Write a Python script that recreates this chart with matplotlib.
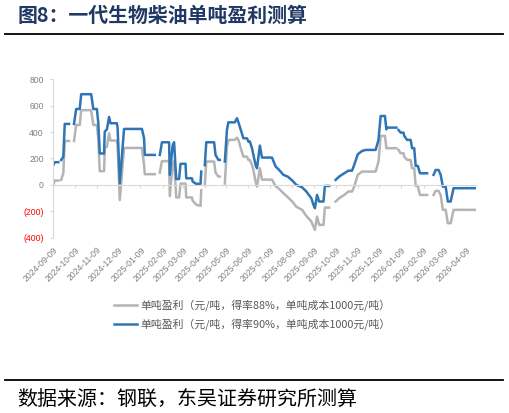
import matplotlib
matplotlib.use('Agg')
import numpy as np
import pandas as pd
import matplotlib.pyplot as plt
import matplotlib.dates as mdates
from matplotlib.lines import Line2D

plt.rcParams['font.family'] = ['Noto Sans CJK SC', 'DejaVu Sans']

nan = np.nan
start_date = '2024-09-09'
day_offsets = [0, 2, 7, 9, 11, 14, 16, 22, 26, 29, 32, 37, 39, 53, 56, 61, 63, 65, 71, 72,
               75, 78, 80, 89, 90, 93, 99, 124, 127, 128, 142, 146, 149, 152, 162, 163, 167, 169, 172, 176,
               178, 185, 186, 194, 195, 200, 206, 207, 209, 212, 214, 225, 227, 231, 233, 236, 240, 243, 245, 254,
               257, 259, 263, 266, 271, 273, 275, 278, 280, 283, 285, 289, 292, 306, 311, 316, 322, 328, 335, 340,
               348, 354, 361, 364, 366, 369, 372, 378, 380, 386, 390, 395, 400, 407, 413, 418, 421, 426, 432, 437,
               451, 455, 458, 464, 466, 467, 480, 481, 483, 486, 490, 491, 495, 500, 502, 505, 507, 510, 513, 523,
               528, 532, 535, 539, 542, 545, 549, 552, 556, 560, 571, 573, 574, 591]
profit_90 = [151, 172, 172, nan, 189, 214, 462, 462, nan, 462, 575, 575, 687, 687, 575, 575, 467, 238, 238, 404,
             420, 515, 467, 467, 429, 13, 424, 424, 353, 227, 227, nan, 227, 323, 323, 76, 300, 323, 45, 45,
             160, 160, 50, 50, 25, 8, 8, 101, nan, 150, 323, 323, 227, 189, 189, nan, 177, 420, 474, 474,
             505, 474, 404, 353, 353, 328, 328, 278, 227, 151, 126, 298, 207, 207, 140, 113, 76, 63, 30, 0,
             -18, -50, -101, -151, -177, -76, -126, -126, -8, -8, nan, 38, 63, 88, 108, 108, 151, 232, 257, 265,
             265, 341, 522, 522, 421, 434, 434, nan, 416, 396, 396, 371, 341, 341, 278, 278, 144, 144, 88, 88,
             nan, 76, 113, 113, 76, -13, -13, -126, -126, -25, -25, nan, -25, -25]
profit_88 = [0, 33, 33, nan, 38, 88, 333, 333, nan, 333, 454, 454, 566, 566, 454, 454, 341, 104, 104, 280,
             290, 391, 336, 336, 290, -115, 280, 280, 150, 81, 81, nan, 93, 180, 180, -85, 160, 180, -95, -95,
             10, 10, -95, -95, -120, -150, -159, -40, nan, 0, 177, 177, 93, 63, 63, nan, 10, 290, 341, 341,
             358, 341, 265, 214, 214, 189, 189, 151, 113, 25, -13, 126, 40, 40, -10, -30, -63, -93, -130, -165,
             -189, -235, -277, -315, -341, -240, -303, -303, -172, -172, nan, -126, -101, -76, -50, -50, -13, 76, 101, 101,
             101, 177, 371, 371, 278, 278, 278, nan, 265, 240, 240, 214, 189, 189, 126, 126, -8, -8, -76, -76,
             nan, -76, -45, -45, -76, -189, -189, -290, -290, -189, -189, nan, -189, -189]

series_labels = ['单吨盈利（元/吨，得率88%，单吨成本1000元/吨）',
                 '单吨盈利（元/吨，得率90%，单吨成本1000元/吨）']
y_ticks = [-400, -200, 0, 200, 400, 600, 800]
y_tick_labels = ['(400)', '(200)', '0', '200', '400', '600', '800']
title_text = '图8：一代生物柴油单吨盈利测算'
source_text = '数据来源：钢联，东吴证券研究所测算'

W, H = 510, 413
fig = plt.figure(figsize=(W / 100, H / 100), dpi=100)
fig.patch.set_facecolor('white')

ax_l, ax_r, ax_t, ax_b = 53.3, 475.7, 79.3, 237.7
ax = fig.add_axes([ax_l / W, 1 - ax_b / H, (ax_r - ax_l) / W, (ax_b - ax_t) / H])

dates = pd.Timestamp(start_date) + pd.to_timedelta(day_offsets, unit='D')
l1, = ax.plot(dates, profit_88, color='#b4b4b4', lw=1.8, solid_joinstyle='round', label=series_labels[0])
l2, = ax.plot(dates, profit_90, color='#2e75b6', lw=1.8, solid_joinstyle='round', label=series_labels[1])

ax.set_ylim(-400, 800)
ax.set_xlim(dates[0], dates[-1])
ax.set_yticks(y_ticks)
ax.set_yticklabels(y_tick_labels, family=['Liberation Sans', 'DejaVu Sans'])
for lab, v in zip(ax.get_yticklabels(), y_ticks):
    lab.set_color('#ff0000' if v < 0 else '#7f7f7f')

ax.xaxis.set_major_locator(mdates.MonthLocator(bymonthday=9))
ax.xaxis.set_major_formatter(mdates.DateFormatter('%Y-%m-%d'))

for s in ['top', 'right']:
    ax.spines[s].set_visible(False)
ax.spines['left'].set_color('#d9d9d9')
ax.spines['left'].set_linewidth(0.8)
ax.spines['bottom'].set_position(('data', 0))
ax.spines['bottom'].set_color('#d9d9d9')
ax.spines['bottom'].set_linewidth(0.8)

ax.tick_params(axis='y', length=2.5, color='#d9d9d9', width=0.8, pad=4.3, labelsize=6.2)
ax.tick_params(axis='x', length=2.5, color='#d9d9d9', width=0.8, pad=41, labelsize=6.2, labelcolor='#7f7f7f')
for lab in ax.get_xticklabels():
    lab.set_rotation(45)
    lab.set_ha('right')
    lab.set_va('top')
    lab.set_rotation_mode('anchor')
    lab.set_family(['Liberation Sans', 'DejaVu Sans'])

leg = fig.legend(handles=[l1, l2], loc='upper left', bbox_to_anchor=(114 / W, 1 - 299 / H),
                 frameon=False, fontsize=7.8, handlelength=2.1, handletextpad=0.3,
                 labelspacing=0.7, borderpad=0, borderaxespad=0)
for t in leg.get_texts():
    t.set_color('#595959')

fig.text(18 / W, 1 - 15 / H, title_text, fontsize=14.3, fontweight='bold', color='#1f3864',
         va='center', ha='left')
fig.add_artist(Line2D([5 / W, 503 / W], [1 - 34 / H] * 2, color='black', lw=1.3))
fig.add_artist(Line2D([5 / W, 503 / W], [1 - 380 / H] * 2, color='black', lw=1.3))
fig.text(17 / W, 1 - 400 / H, source_text, fontsize=14.4, color='black', va='center', ha='left')

fig.savefig('out.png', dpi=100)
